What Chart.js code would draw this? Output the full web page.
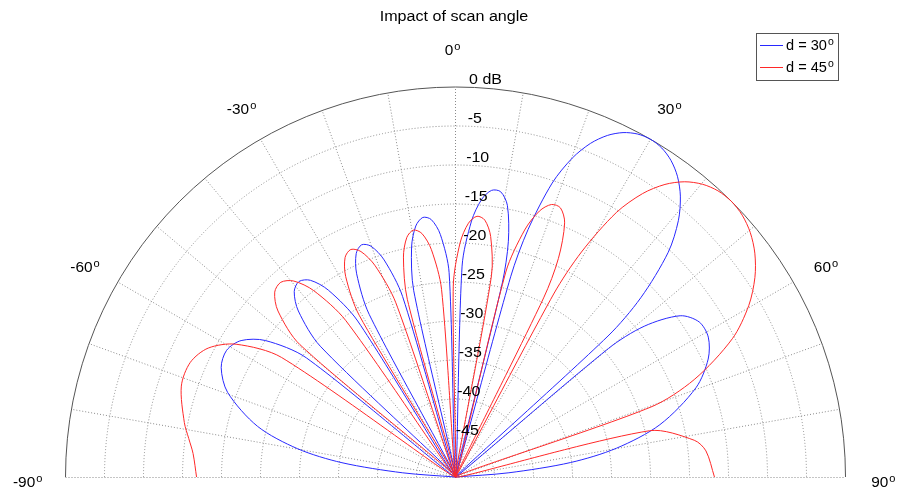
<!DOCTYPE html>
<html><head><meta charset="utf-8">
<script src="https://cdn.jsdelivr.net/npm/chart.js@4"></script>
<style>html,body{margin:0;padding:0;background:#fff}canvas{display:block}</style>
</head><body>
<canvas id="c" width="905" height="493"></canvas>
<script>
// ---- data (angle in degrees, level in dB) ----
const seriesNames = ['d = 30', 'd = 45'];
const seriesColors = ['rgb(40,40,255)', 'rgb(255,40,40)'];
const blueAngles = [-90,-85.47,-82.83,-79.86,-75.64,-69.64,-64.98,-61.04,-57.53,-54.34,-51.38,-48.59,
  -45.95,-43.43,-41.01,-38.68,-36.42,-34.23,-32.09,-30,-27.95,-25.94,-23.97,-22.02,-20.11,-18.21,-16.34,-14.48,
  -12.64,-10.81,-8.99,-7.18,-5.38,-3.58,-1.79,0,1.79,3.58,5.38,7.18,8.99,10.81,12.64,13.56,14.48,15.40,16.34,18.21,
  20.11,22.02,23.97,25.94,27.95,30,32.09,34.23,36.42,38.68,41.01,43.43,45.95,47.25,48.59,49.96,51.38,54.34,57.53,
  61.04,64.98,69.64,75.64,79.86,82.83,85.47,90];
const blueDb = [-50,-43.22,-35.33,-29.45,-23.80,-18.84,-16.85,-16.46,-17.42,-19.98,-25.53,-50,
  -25.88,-20.69,-18.49,-17.89,-18.66,-21.03,-26.39,-50,-26.39,-21.03,-18.66,-17.89,-18.49,-20.69,-25.88,-50,
  -25.53,-19.98,-17.42,-16.46,-16.85,-18.84,-23.80,-50,-22.95,-17.12,-14.25,-12.96,-12.97,-14.54,-19.03,-24.41,-50,-23.38,-16.95,-10.33,
  -6.46,-3.87,-2.08,-0.90,-0.22,0,-0.22,-0.90,-2.08,-3.87,-6.46,-10.33,-16.95,-23.38,-50,-24.41,-19.03,-14.54,-12.97,
  -12.96,-14.25,-17.12,-22.95,-29.03,-35.12,-43.13,-50];
const redAngles = [-90,-84.89,-81.80,-78.64,-71.66,-66.63,-62.46,-58.82,-55.50,-52.46,-49.61,-46.92,-44.36,-41.90,
  -39.54,-37.26,-35.04,-32.88,-30.77,-28.71,-26.69,-24.70,-22.75,-20.82,-18.91,-17.03,-15.17,-13.32,-11.49,-9.67,
  -7.85,-6.05,-4.25,-2.46,-0.67,1.12,2.92,4.71,6.51,8.32,10.13,11.95,13.79,15.64,17.51,19.40,21.31,23.24,25.21,
  26.20,27.20,28.21,29.24,31.30,33.43,35.60,37.83,40.14,42.52,45,47.59,50.32,53.21,56.32,59.70,63.46,67.80,70.30,
  73.16,76.59,81.25,84.05,90];
const redDb = [-16.80,-16.22,-15.45,-14.54,-12.97,-12.96,-14.25,-17.12,-22.95,-50,-23.80,-18.84,-16.85,-16.46,
  -17.42,-19.98,-25.53,-50,-25.88,-20.69,-18.49,-17.89,-18.66,-21.03,-26.39,-50,-26.39,-21.03,-18.66,-17.89,
  -18.49,-20.69,-25.88,-50,-25.53,-19.98,-17.42,-16.46,-16.85,-18.84,-23.80,-50,-22.95,-17.12,-14.25,-12.96,-12.97,-14.54,-19.03,
  -24.41,-50,-23.38,-16.95,-10.33,-6.46,-3.87,-2.08,-0.90,-0.22,0,-0.22,-0.90,-2.08,-3.87,-6.46,-10.33,-16.95,-23.38,
  -50,-24.41,-19.03,-17.72,-16.80];
const ringTicks = [0,-5,-10,-15,-20,-25,-30,-35,-40,-45];
const ringLabels = ['0 dB','-5','-10','-15','-20','-25','-30','-35','-40','-45'];
const spokeAngles = [-80,-70,-60,-50,-40,-30,-20,-10,0,10,20,30,40,50,60,70,80];
const angleTicks = [-90,-60,-30,0,30,60,90];
const angleLabels = ['-90','-60','-30','0','30','60','90'];
const floorDb = -50;
const titleText = 'Impact of scan angle';

const FONT = '"Liberation Sans", Arial, Helvetica, sans-serif';
const CX = 455.5, CY = 477, PXU = 7.8, W = 905, H = 493;

function toXY(angles, dbs) {
  return angles.map((a, i) => {
    const r = Math.max(dbs[i], floorDb) - floorDb;
    const t = a * Math.PI / 180;
    return {x: r * Math.sin(t), y: r * Math.cos(t)};
  });
}

function drawText(ctx, s, x, y, size, align, sx) {
  ctx.save();
  ctx.translate(x, y);
  ctx.scale(sx, 1);
  ctx.font = size + 'px ' + FONT;
  ctx.textAlign = align;
  ctx.textBaseline = 'alphabetic';
  ctx.fillStyle = '#000';
  ctx.fillText(s, 0, 0);
  ctx.restore();
}
function textW(ctx, s, size, sx) {
  ctx.font = size + 'px ' + FONT;
  return ctx.measureText(s).width * sx;
}
function degText(ctx, s, x, baseY, size, sx, centered) {
  const supSize = size * 0.72;
  const w1 = textW(ctx, s, size, sx);
  const w2 = textW(ctx, 'o', supSize, sx);
  const total = w1 + 1 + w2;
  const x0 = centered ? x - total / 2 : x;
  drawText(ctx, s, x0, baseY, size, 'left', sx);
  drawText(ctx, 'o', x0 + w1 + 1, baseY - size * 0.34, supSize, 'left', sx);
}

const polarPlugin = {
  id: 'polarPlugin',
  beforeDatasetsDraw(chart) {
    const {ctx, scales: {x, y}} = chart;
    const cx = x.getPixelForValue(0), cy = y.getPixelForValue(0);
    const rad = db => x.getPixelForValue(db - floorDb) - cx;
    const R = rad(0);
    ctx.save();
    ctx.lineWidth = 1;
    ctx.strokeStyle = '#8a8a8a';
    ctx.setLineDash([1, 2]);
    ringTicks.forEach(t => {
      if (t === 0) return;
      ctx.beginPath();
      ctx.arc(cx, cy, rad(t), Math.PI, 2 * Math.PI);
      ctx.stroke();
    });
    spokeAngles.forEach(a => {
      const t = a * Math.PI / 180;
      ctx.beginPath();
      ctx.moveTo(cx, cy);
      ctx.lineTo(cx + R * Math.sin(t), cy - R * Math.cos(t));
      ctx.stroke();
    });
    ctx.beginPath();
    ctx.moveTo(cx - R, Math.round(cy) + 0.5);
    ctx.lineTo(cx + R, Math.round(cy) + 0.5);
    ctx.stroke();
    ctx.setLineDash([]);
    ctx.strokeStyle = '#555';
    ctx.beginPath();
    ctx.arc(cx, cy, R, Math.PI, 2 * Math.PI);
    ctx.stroke();
    ctx.restore();
  },
  afterDatasetsDraw(chart) {
    const {ctx, scales: {x, y}} = chart;
    const cx = x.getPixelForValue(0), cy = y.getPixelForValue(0);
    const rad = db => x.getPixelForValue(db - floorDb) - cx;
    ctx.save();
    // ring labels
    ringTicks.forEach((t, i) => {
      const r = rad(t);
      drawText(ctx, ringLabels[i], cx - 1.2 + 0.038 * r, cy - r - 3.3, 14, 'left', 1.14);
    });
    // angle labels
    const RL = rad(0) * 1.097;
    angleTicks.forEach((a, i) => {
      const t = a * Math.PI / 180;
      const lx = cx + RL * Math.sin(t) - (a === 0 ? 3 : 0);
      const ly = cy - RL * Math.cos(t) + 5.5 + 4 * Math.abs(Math.sin(t));
      degText(ctx, angleLabels[i], lx, ly, 14, 1.1, true);
    });
    // title
    drawText(ctx, titleText, 454, 20.5, 14, 'center', 1.15);
    // legend
    const lx = 756.5, ly = 33.5, lw = 82, lh = 47;
    ctx.fillStyle = '#fff';
    ctx.fillRect(lx, ly, lw, lh);
    ctx.strokeStyle = '#555';
    ctx.lineWidth = 1;
    ctx.strokeRect(lx, ly, lw, lh);
    [45.5, 67.5].forEach((yy, k) => {
      ctx.save();
      ctx.strokeStyle = seriesColors[k];
      ctx.lineWidth = 1;
      ctx.beginPath();
      ctx.moveTo(760, yy);
      ctx.lineTo(783, yy);
      ctx.stroke();
      ctx.restore();
      degText(ctx, seriesNames[k], 786, yy + 4.5, 14, 1.04, false);
    });
    ctx.restore();
  }
};

new Chart(document.getElementById('c'), {
  type: 'scatter',
  data: {
    datasets: [
      {label: seriesNames[1], data: toXY(redAngles, redDb), showLine: true, borderColor: seriesColors[1],
       borderWidth: 1, pointRadius: 0, tension: 0.3, fill: false},
      {label: seriesNames[0], data: toXY(blueAngles, blueDb), showLine: true, borderColor: seriesColors[0],
       borderWidth: 1, pointRadius: 0, tension: 0.3, fill: false}
    ]
  },
  options: {
    responsive: false,
    animation: false,
    devicePixelRatio: 1,
    events: [],
    layout: {padding: 0},
    plugins: {legend: {display: false}, tooltip: {enabled: false}, title: {display: false}},
    scales: {
      x: {type: 'linear', display: false, min: -CX / PXU, max: (W - CX) / PXU},
      y: {type: 'linear', display: false, min: -(H - CY) / PXU, max: CY / PXU}
    }
  },
  plugins: [polarPlugin]
});
</script>
</body></html>
